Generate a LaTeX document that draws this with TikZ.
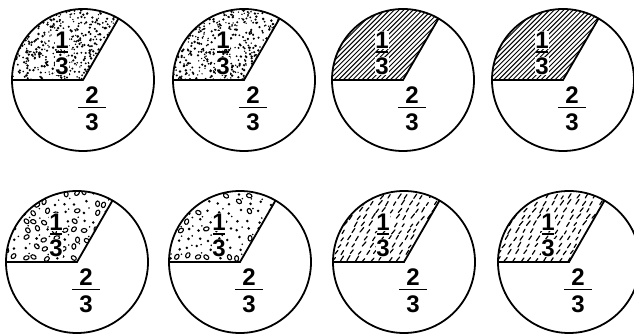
\documentclass[tikz,border=0pt]{standalone}
\usepackage{fontspec}
\setmainfont{Liberation Sans}
\usetikzlibrary{calc}
\begin{document}
\begin{tikzpicture}[x=1pt,y=1pt,
  outline/.style={line width=1.8pt, line join=miter},
  digit/.style={inner sep=0.6pt, font=\bfseries\fontsize{24}{24}\selectfont},
  bar/.style={line width=1.9pt},
  hatch/.style={line width=0.95pt},
  dashmark/.style={line width=1.2pt, line cap=round}]
\useasboundingbox (0,0) rectangle (634,334);
\def\R{71}
\pgfmathsetseed{7}
% pie macro: #1 name, #2 x, #3 y, #4 pattern code
\newcommand\mypie[4]{%
  \begin{scope}
    \clip (#2,#3) -- ++(-\R,0) arc[start angle=180,end angle=60,radius=\R] -- cycle;
    \begin{scope}[shift={(#2,#3)}] #4 \end{scope}
  \end{scope}
  \draw[outline] (#2,#3) circle[radius=\R];
  \coordinate (#1c) at (#2,#3);
  \coordinate (#1l) at ($(#2,#3)+(-\R,0)$);
  \coordinate (#1t) at ($(#2,#3)+(60:\R)$);
  \draw[outline] (#1l) -- (#1c) -- (#1t);
  \node[digit, fill=white] (#1a) at ($(#1c)+(-21,40)$) {1};
  \node[digit, fill=white] (#1b) at ($(#1c)+(-21,14)$) {3};
  \draw[bar] ($(#1c)+(-27,28)$) -- ($(#1c)+(-15,28)$);
  \node[digit] (#1d) at ($(#1c)+(9,-15)$) {2};
  \node[digit] (#1e) at ($(#1c)+(9,-42)$) {3};
  \draw[bar] ($(#1c)+(-5,-27.5)$) -- ($(#1c)+(23,-27.5)$);
}
% patterns
\newcommand\stipple{%
  \foreach \i in {1,...,560}{%
    \pgfmathsetmacro\px{-72+110*rnd}\pgfmathsetmacro\py{72*rnd}\pgfmathsetmacro\pr{0.7+0.7*rnd}%
    \fill (\px,\py) circle[radius=\pr];}}
\newcommand\hatchlines{%
  \foreach \k in {-170,-165.3,...,40}{\draw[hatch] (\k,-2) -- ++(45:150);}}
\newcommand\ovals[1]{%
  \foreach \gx in {-74,-64,...,40}{\foreach \gy in {3,12,...,74}{%
    \pgfmathsetmacro\px{\gx+5*rnd}\pgfmathsetmacro\py{\gy+4*rnd}\pgfmathsetmacro\pa{180*rnd}\pgfmathsetmacro\pt{rnd}%
    \ifdim \pt pt<#1pt
      \draw[line width=1.1pt, rotate around={\pa:(\px,\py)}] (\px,\py) ellipse[x radius=2.8, y radius=2];
    \else
      \fill (\px,\py) circle[radius=1.4];
    \fi
    \pgfmathsetmacro\qx{\gx+5+2*rnd}\pgfmathsetmacro\qy{\gy+4.5+2*rnd}\pgfmathsetmacro\qt{rnd}%
    \ifdim \qt pt<0.5pt \fill (\qx,\qy) circle[radius=0.9]; \fi
  }}}
\newcommand\dashes{%
  \foreach \gx in {-82,-74,...,40}{\foreach \gy in {0,7,...,76}{%
    \pgfmathsetmacro\px{\gx+3*rnd+0.4*\gy}\pgfmathsetmacro\py{\gy+2*rnd}\pgfmathsetmacro\pa{48+12*rnd}\pgfmathsetmacro\pl{3.5+2.5*rnd}%
    \draw[dashmark] (\px,\py) -- ++(\pa:\pl);
  }}}
\mypie{p1}{83}{254}{\stipple}
\mypie{p2}{244}{254}{\stipple}
\mypie{p3}{403}{254}{\hatchlines}
\mypie{p4}{563}{254}{\hatchlines}
\mypie{p5}{77}{72}{\ovals{0.6}}
\mypie{p6}{240}{72}{\ovals{0.35}}
\mypie{p7}{404}{72}{\dashes}
\mypie{p8}{569}{72}{\dashes}
\end{tikzpicture}
\end{document}
